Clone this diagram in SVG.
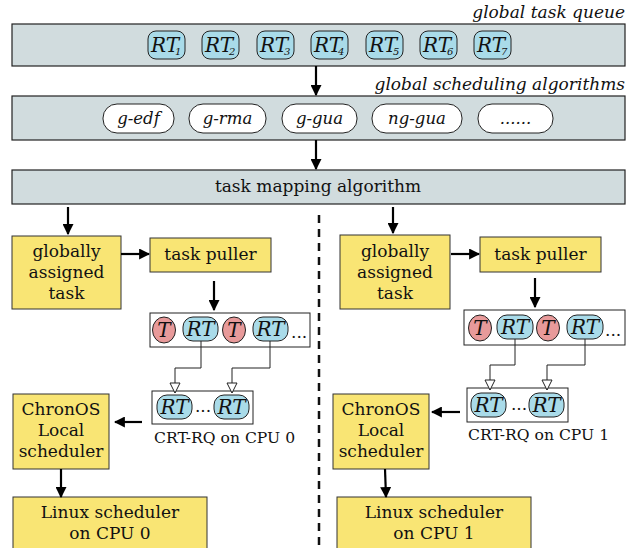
<svg xmlns="http://www.w3.org/2000/svg" width="634" height="548" viewBox="0 0 634 548" font-family="DejaVu Serif, serif">
<defs>
<style>
.bar{fill:#d1dcde;stroke:#222;stroke-width:1.2}
.y{fill:#f9e574;stroke:#333;stroke-width:1}
.rt{fill:#a9dbe9;stroke:#222;stroke-width:1}
.t{fill:#e89a9a;stroke:#222;stroke-width:1}
.pill{fill:#fff;stroke:#222;stroke-width:1}
.q{fill:#fff;stroke:#222;stroke-width:1}
.tx{font-size:17px;fill:#111}
.it{font-style:italic;font-size:17px;fill:#111}
.pt{font-style:italic;font-size:16.5px;fill:#111}
.rtx{font-style:italic;font-size:20px;fill:#111}
.sm{font-size:15.6px;fill:#111}
.c{text-anchor:middle}
.r{text-anchor:end}
.arr{stroke:#000;stroke-width:2.2;fill:none;marker-end:url(#ah)}
.thin{stroke:#222;stroke-width:1;fill:none;marker-end:url(#oh)}
</style>
<marker id="ah" viewBox="0 0 10 10" refX="9" refY="5" markerWidth="5" markerHeight="5" orient="auto" markerUnits="strokeWidth"><path d="M0,0 L10,5 L0,10 z" fill="#000"/></marker>
<marker id="oh" viewBox="0 0 12 12" refX="11" refY="6" markerWidth="12" markerHeight="12" orient="auto" markerUnits="userSpaceOnUse"><path d="M1,1 L11,6 L1,11 z" fill="#fff" stroke="#222" stroke-width="1"/></marker>
</defs>

<g id="gtq">
<text class="it r" x="625" y="18">global task queue</text>
<rect class="bar" x="12" y="24" width="613" height="42"/>
<rect class="rt" x="148" y="31" width="37" height="28" rx="8"/><text class="rtx" x="151" y="52">RT<tspan font-size="10" dx="-4" dy="3">1</tspan></text>
<rect class="rt" x="202" y="31" width="37" height="28" rx="8"/><text class="rtx" x="205" y="52">RT<tspan font-size="10" dx="-4" dy="3">2</tspan></text>
<rect class="rt" x="257" y="31" width="37" height="28" rx="8"/><text class="rtx" x="260" y="52">RT<tspan font-size="10" dx="-4" dy="3">3</tspan></text>
<rect class="rt" x="311" y="31" width="37" height="28" rx="8"/><text class="rtx" x="314" y="52">RT<tspan font-size="10" dx="-4" dy="3">4</tspan></text>
<rect class="rt" x="366" y="31" width="37" height="28" rx="8"/><text class="rtx" x="369" y="52">RT<tspan font-size="10" dx="-4" dy="3">5</tspan></text>
<rect class="rt" x="420" y="31" width="37" height="28" rx="8"/><text class="rtx" x="423" y="52">RT<tspan font-size="10" dx="-4" dy="3">6</tspan></text>
<rect class="rt" x="474" y="31" width="37" height="28" rx="8"/><text class="rtx" x="477" y="52">RT<tspan font-size="10" dx="-4" dy="3">7</tspan></text>
</g>

<g id="gsa">
<text class="it r" x="625" y="90">global scheduling algorithms</text>
<rect class="bar" x="12" y="96" width="613" height="44"/>
<rect class="pill" x="103" y="104" width="71" height="29" rx="14"/><text class="pt c" x="138.5" y="124">g-edf</text>
<rect class="pill" x="189" y="104" width="77" height="29" rx="14"/><text class="pt c" x="227.5" y="124">g-rma</text>
<rect class="pill" x="282" y="104" width="75" height="29" rx="14"/><text class="pt c" x="319.5" y="124">g-gua</text>
<rect class="pill" x="372" y="104" width="90" height="29" rx="14"/><text class="pt c" x="417" y="124">ng-gua</text>
<rect class="pill" x="478" y="104" width="75" height="29" rx="14"/><text class="pt c" x="515.5" y="124">......</text>
</g>

<g id="tma">
<rect class="bar" x="12" y="170" width="613" height="34"/>
<text class="tx c" x="318" y="192">task mapping algorithm</text>
</g>

<g id="divider">
<line x1="319" y1="215" x2="319" y2="548" stroke="#111" stroke-width="2.5" stroke-dasharray="8,6"/>
</g>

<g id="gat0">
<rect class="y" x="12" y="236" width="109" height="73"/>
<text class="tx c" x="66.5" y="257">globally</text>
<text class="tx c" x="66.5" y="278">assigned</text>
<text class="tx c" x="66.5" y="299">task</text>
</g>
<g id="tp0">
<rect class="y" x="150" y="238" width="121" height="34"/>
<text class="tx c" x="210.5" y="260">task puller</text>
</g>
<g id="q0">
<rect class="q" x="150" y="313" width="160" height="34"/>
<ellipse class="t" cx="164" cy="330" rx="11.5" ry="13"/><text class="rtx c" x="164" y="337">T</text>
<rect class="rt" x="183" y="317" width="35" height="24" rx="10"/><text class="rtx c" x="200.5" y="336">RT</text>
<ellipse class="t" cx="234" cy="330" rx="11.5" ry="13"/><text class="rtx c" x="234" y="337">T</text>
<rect class="rt" x="253" y="317" width="35" height="24" rx="10"/><text class="rtx c" x="270.5" y="336">RT</text>
<text class="tx" x="291" y="338">...</text>
</g>
<g id="crt0">
<rect class="q" x="152" y="391" width="101" height="33"/>
<rect class="rt" x="157" y="395" width="35" height="24" rx="10"/><text class="rtx c" x="174.5" y="414">RT</text>
<text class="tx c" x="203" y="412">...</text>
<rect class="rt" x="214" y="395" width="35" height="24" rx="10"/><text class="rtx c" x="231.5" y="414">RT</text>
<text class="sm" x="154" y="443">CRT-RQ on CPU 0</text>
</g>
<g id="cls0">
<rect class="y" x="13" y="394" width="96" height="75"/>
<text class="tx c" x="61" y="415">ChronOS</text>
<text class="tx c" x="61" y="436">Local</text>
<text class="tx c" x="61" y="457">scheduler</text>
</g>
<g id="lin0">
<rect class="y" x="13" y="497" width="194" height="60"/>
<text class="tx c" x="110" y="518">Linux scheduler</text>
<text class="tx c" x="110" y="539">on CPU 0</text>
</g>

<g id="gat1">
<rect class="y" x="340" y="235" width="110" height="74"/>
<text class="tx c" x="395" y="257">globally</text>
<text class="tx c" x="395" y="278">assigned</text>
<text class="tx c" x="395" y="299">task</text>
</g>
<g id="tp1">
<rect class="y" x="480" y="237" width="121" height="35"/>
<text class="tx c" x="540.5" y="260">task puller</text>
</g>
<g id="q1">
<rect class="q" x="464" y="310" width="161" height="35"/>
<ellipse class="t" cx="480" cy="328" rx="11.5" ry="13"/><text class="rtx c" x="480" y="335">T</text>
<rect class="rt" x="497" y="315" width="36" height="24" rx="10"/><text class="rtx c" x="515" y="334">RT</text>
<ellipse class="t" cx="548" cy="328" rx="11.5" ry="13"/><text class="rtx c" x="548" y="335">T</text>
<rect class="rt" x="567" y="315" width="36" height="24" rx="10"/><text class="rtx c" x="585" y="334">RT</text>
<text class="tx" x="605" y="336">...</text>
</g>
<g id="crt1">
<rect class="q" x="467" y="388" width="101" height="34"/>
<rect class="rt" x="471" y="393" width="35" height="24" rx="10"/><text class="rtx c" x="488.5" y="412">RT</text>
<text class="tx c" x="519" y="410">...</text>
<rect class="rt" x="529" y="393" width="35" height="24" rx="10"/><text class="rtx c" x="546.5" y="412">RT</text>
<text class="sm" x="468" y="440">CRT-RQ on CPU 1</text>
</g>
<g id="cls1">
<rect class="y" x="333" y="394" width="96" height="75"/>
<text class="tx c" x="381" y="415">ChronOS</text>
<text class="tx c" x="381" y="436">Local</text>
<text class="tx c" x="381" y="457">scheduler</text>
</g>
<g id="lin1">
<rect class="y" x="337" y="497" width="194" height="60"/>
<text class="tx c" x="434" y="518">Linux scheduler</text>
<text class="tx c" x="434" y="539">on CPU 1</text>
</g>

<g id="connectors">
<line class="arr" x1="316" y1="66" x2="316" y2="95"/>
<line class="arr" x1="316" y1="140" x2="316" y2="169"/>
<line class="arr" x1="68" y1="207" x2="68" y2="234"/>
<line class="arr" x1="121" y1="254" x2="149" y2="254"/>
<line class="arr" x1="214" y1="281" x2="214" y2="310"/>
<polyline class="thin" points="201,341 201,368 175,368 175,393"/>
<polyline class="thin" points="270,341 270,368 232,368 232,393"/>
<line class="arr" x1="142" y1="422" x2="115" y2="422"/>
<line class="arr" x1="61" y1="469" x2="61" y2="497"/>
<line class="arr" x1="393" y1="207" x2="393" y2="233"/>
<line class="arr" x1="451" y1="254" x2="479" y2="254"/>
<line class="arr" x1="535" y1="278" x2="535" y2="307"/>
<polyline class="thin" points="515,339 515,365 490,365 490,390"/>
<polyline class="thin" points="585,339 585,365 547,365 547,390"/>
<line class="arr" x1="460" y1="412" x2="432" y2="412"/>
<line class="arr" x1="385" y1="469" x2="386" y2="497"/>
</g>
</svg>
